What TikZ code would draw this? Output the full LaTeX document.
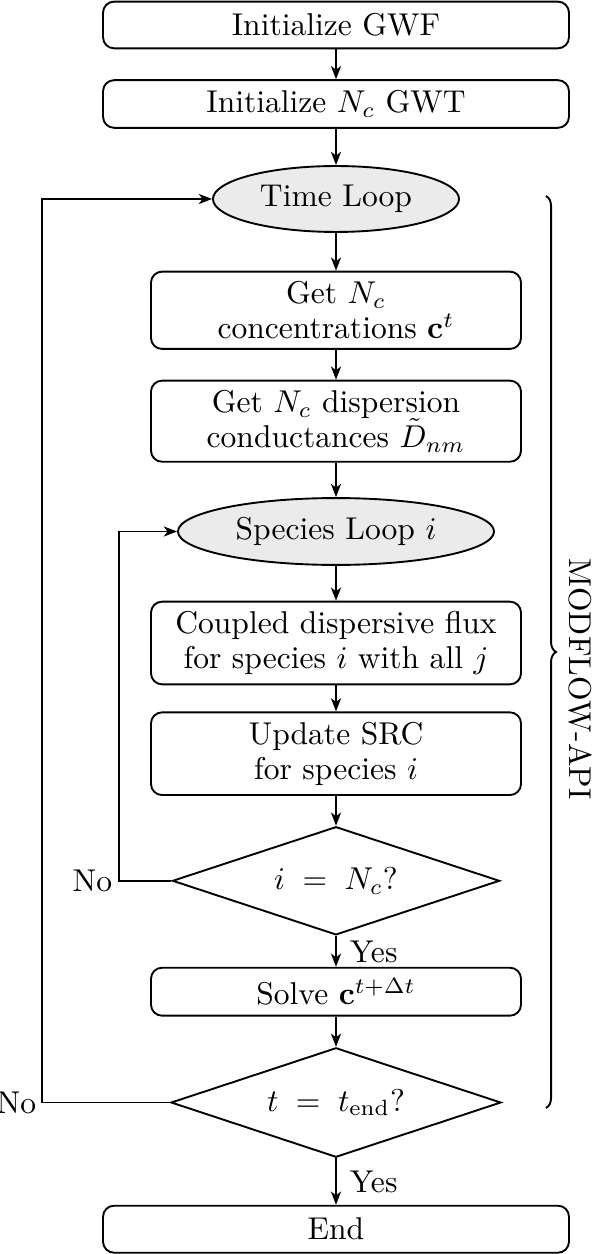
\documentclass[tikz,border=0pt]{standalone}
\usetikzlibrary{shapes.geometric,arrows.meta,decorations.pathreplacing}
\begin{document}
\begin{tikzpicture}[x=0.317pt,y=-0.317pt,
  font=\fontsize{10}{11.2}\selectfont, line width=0.6pt,
  box/.style={draw, rounded corners=3.5pt, align=center, inner sep=0pt},
  loopnode/.style={draw, ellipse, fill=black!8, inner sep=0pt},
  decision/.style={draw, diamond, aspect=3, inner sep=0pt},
  arr/.style={-{Stealth[length=4.2pt,width=3.2pt,inset=1.2pt]}},
  lab/.style={inner sep=0pt}]
\useasboundingbox (0,0) rectangle (592,1254);
\node[box, minimum width=147.7pt, minimum height=14.8pt] (gwf) at (336,25) {Initialize GWF};
\node[box, minimum width=147.7pt, minimum height=15.1pt] (gwt) at (336,104) {Initialize $N_c$ GWT};
\node[loopnode, minimum width=78pt, minimum height=20.9pt] (time) at (336,199) {Time Loop};
\node[box, minimum width=117.3pt, minimum height=24.5pt] (conc) at (336,310.3) {Get $N_c$\\concentrations $\mathbf{c}^t$};
\node[box, minimum width=117.3pt, minimum height=25.7pt] (disp) at (336,421.2) {Get $N_c$ dispersion\\conductances $\tilde{D}_{nm}$};
\node[loopnode, minimum width=100.2pt, minimum height=21.2pt] (spec) at (336,531.5) {Species Loop $i$};
\node[box, minimum width=117.3pt, minimum height=26.2pt] (flux) at (336,643) {Coupled dispersive flux\\for species $i$ with all $j$};
\node[box, minimum width=117.3pt, minimum height=26.2pt] (src) at (336,753.7) {Update SRC\\for species $i$};
\node[decision, minimum width=103.7pt, minimum height=34.3pt] (d1) at (336,880.8) {$i\;=\;N_c$?};
\node[box, minimum width=117.3pt, minimum height=15.2pt] (solve) at (336,991.7) {Solve $\mathbf{c}^{t+\Delta t}$};
\node[decision, minimum width=104.6pt, minimum height=34.7pt] (d2) at (336,1102.5) {$t\;=\;t_{\mathrm{end}}$?};
\node[box, minimum width=147.7pt, minimum height=14.9pt] (end) at (336,1229.2) {End};

\draw[arr] (gwf) -- (gwt);
\draw[arr] (gwt) -- (time);
\draw[arr] (time) -- (conc);
\draw[arr] (conc) -- (disp);
\draw[arr] (disp) -- (spec);
\draw[arr] (spec) -- (flux);
\draw[arr] (flux) -- (src);
\draw[arr] (src) -- (d1);
\draw[arr] (d1) -- (solve);
\draw[arr] (solve) -- (d2);
\draw[arr] (d2) -- (end);

\coordinate (innerL) at (119,880.8);
\coordinate (outerL) at (42,1102.5);
\draw[arr] (d1.west) -- (innerL) |- (spec.west);
\draw[arr] (d2.west) -- (outerL) |- (time.west);

\node[lab, anchor=east] (no1) at (113,880.8) {No};
\node[lab, anchor=east] (no2) at (37,1102.5) {No};
\node[lab, anchor=west] (yes1) at (349,952) {Yes};
\node[lab, anchor=west] (yes2) at (349,1182) {Yes};

\coordinate (bt) at (546,196);
\coordinate (bb) at (546,1108);
\draw[decorate, decoration={brace, amplitude=3.2pt}] (bt) -- (bb);
\node[lab, rotate=-90] (api) at (580,679) {MODFLOW-API};
\end{tikzpicture}
\end{document}
